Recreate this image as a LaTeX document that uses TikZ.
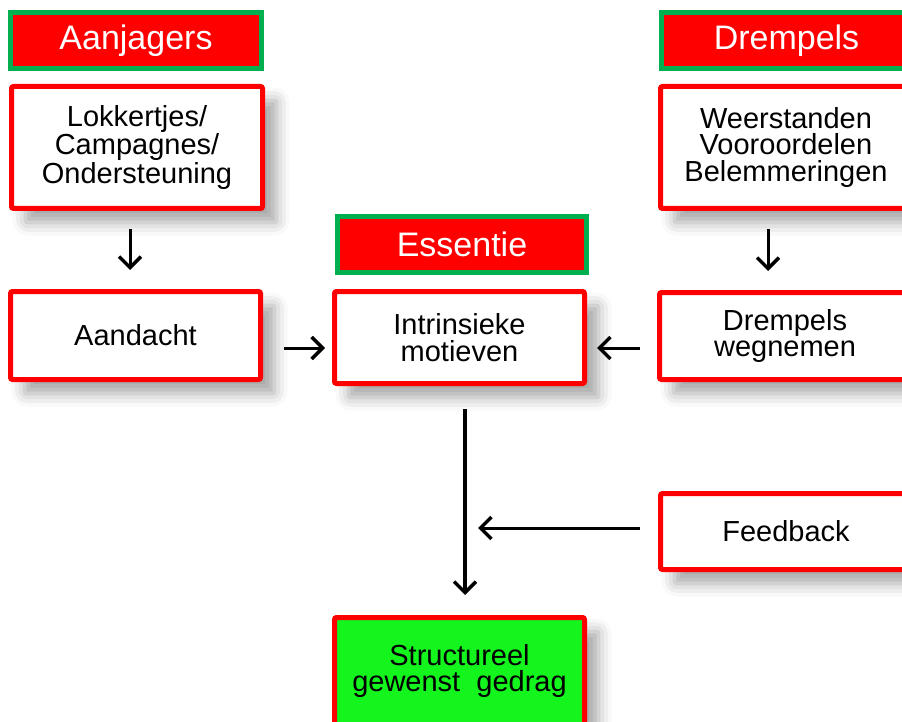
\documentclass[tikz,border=0pt]{standalone}
\usepackage{fontspec}
\setmainfont{Liberation Sans}
\usetikzlibrary{arrows.meta,shadows.blur}
\definecolor{kopgroen}{RGB}{0,176,80}
\definecolor{fel}{RGB}{255,0,0}
\definecolor{doelgroen}{RGB}{20,245,30}

\begin{document}
\begin{tikzpicture}[x=1pt,y=1pt,
    kop/.style={draw=kopgroen, line width=5pt, fill=fel, text=white,
      font=\fontsize{34}{36}\selectfont, inner sep=0pt,
      minimum width=251pt, minimum height=56pt},
    blok/.style={draw=fel, line width=5pt, fill=white, rounded corners=2pt,
      align=center, font=\fontsize{29}{26.5}\selectfont, inner sep=0pt,
      minimum width=251pt,
      blur shadow={shadow xshift=14pt, shadow yshift=-14pt,
        shadow blur radius=13pt, shadow opacity=35}},
    pijl/.style={line width=3pt,
      -{Straight Barb[length=11pt,width=22pt,line width=3.5pt]}}]

    % Vaste afmetingen van de figuur
    \useasboundingbox (0,0) rectangle (902,-722);

    % Kopjes (groene rand, rode vulling)
    \node[kop] (aanjagers) at (136,-40.5) {Aanjagers};
    \node[kop] (drempels) at (786.5,-40.5) {Drempels};
    \node[kop, minimum width=249pt] (essentie) at (462,-244.5) {Essentie};

    % Linker kolom
    \node[blok, minimum height=122pt] (lok) at (137,-147.5)
        {Lokkertjes/\\Campagnes/\\Ondersteuning};
    \node[blok, minimum width=250pt, minimum height=88pt] (aan) at (135.5,-335.5)
        {Aandacht};

    % Middelste kolom
    \node[blok, minimum width=250pt, minimum height=92pt] (int) at (459.5,-337.5)
        {Intrinsieke\\motieven};
    \node[blok, fill=doelgroen, minimum width=250pt, minimum height=107pt] (str)
        at (459.5,-671) {Structureel\\gewenst\ \ gedrag};

    % Rechter kolom
    \node[blok, minimum height=122pt] (wee) at (786,-147.5)
        {Weerstanden\\Vooroordelen\\Belemmeringen};
    \node[blok, minimum height=87pt] (weg) at (785,-336)
        {Drempels\\wegnemen};
    \node[blok, minimum height=76pt] (feed) at (786,-531.5) {Feedback};

    % Hulppunten voor de pijlen
    \coordinate (hoogte) at (0,-348);
    \coordinate (as) at (465,0);
    \coordinate (fb) at (0,-528);

    % Pijlen
    \draw[pijl, shorten <=18pt, shorten >=19pt]
        ([xshift=-7pt]lok.south) -- ([xshift=-7pt]lok.south |- aan.north);
    \draw[pijl, shorten <=18pt, shorten >=19pt]
        ([xshift=-18pt]wee.south) -- ([xshift=-18pt]wee.south |- weg.north);
    \draw[pijl, shorten <=21pt, shorten >=7pt] (aan.east |- hoogte) -- (int.west |- hoogte);
    \draw[pijl, shorten <=17pt, shorten >=10pt] (weg.west |- hoogte) -- (int.east |- hoogte);
    \draw[pijl, line width=4pt, shorten <=23pt, shorten >=20pt] (int.south -| as) -- (str.north -| as);
    \draw[pijl, shorten <=18pt, shorten >=13pt] (feed.west |- fb) -- (as |- fb);

\end{tikzpicture}
\end{document}
